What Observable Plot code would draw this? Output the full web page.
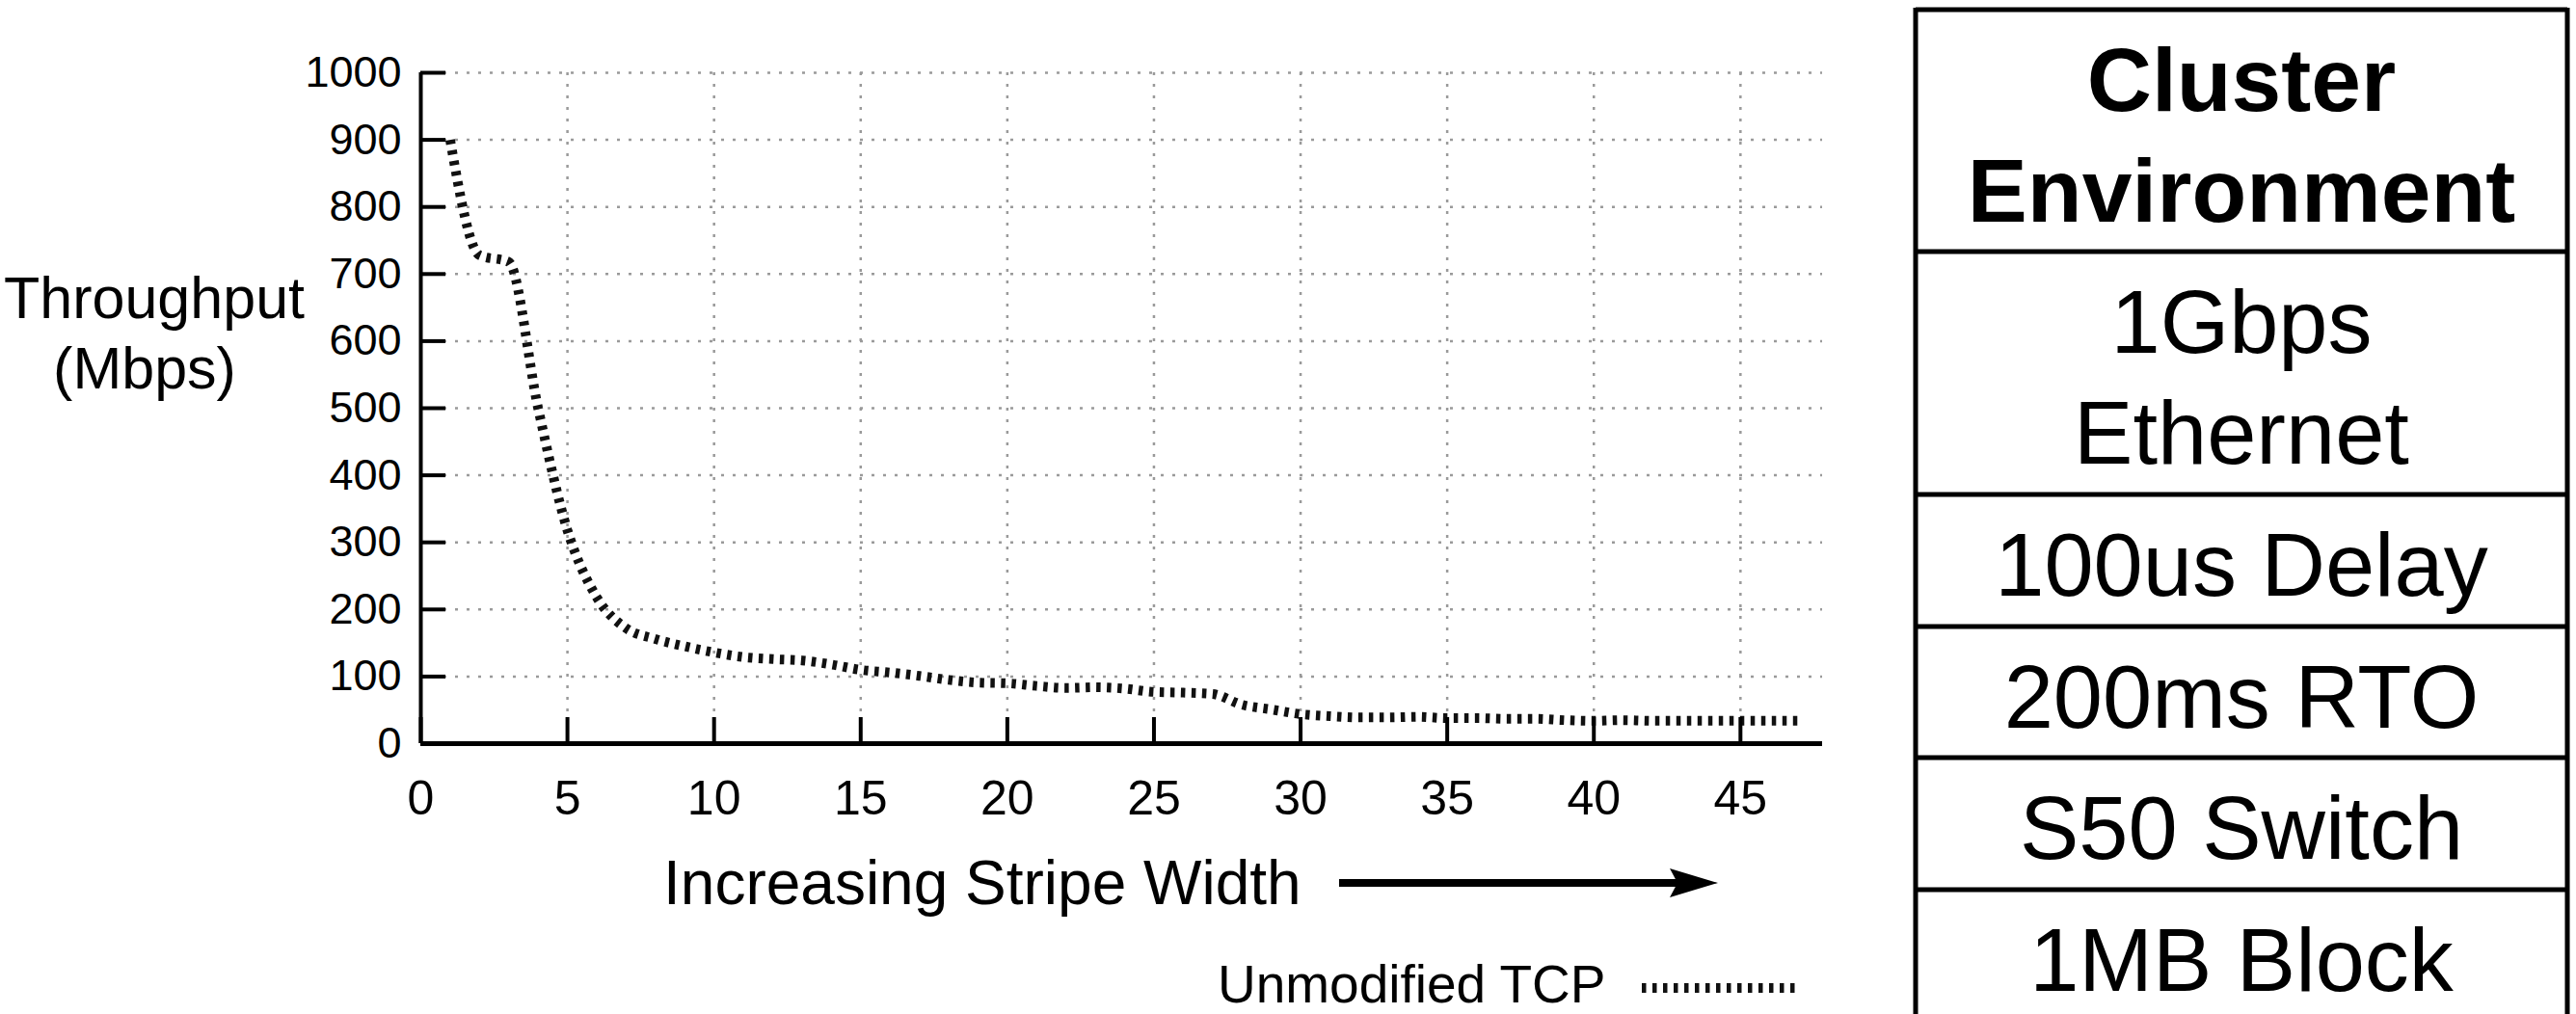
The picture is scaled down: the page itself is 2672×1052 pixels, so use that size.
<!DOCTYPE html>
<html><head><meta charset="utf-8">
<script src="https://cdn.jsdelivr.net/npm/d3@7"></script>
<script src="https://cdn.jsdelivr.net/npm/@observablehq/plot@0.6"></script>
<style>
html,body{margin:0;padding:0;background:#fff;}
#root{position:relative;width:2672px;height:1052px;overflow:hidden;background:#fff;font-family:"Liberation Sans",Arial,Helvetica,sans-serif;}
#chart{position:absolute;left:0;top:0;}
#overlay{position:absolute;left:0;top:0;}
</style></head><body>
<div id="root"><div id="chart"></div><svg id="overlay" width="2672" height="1052"></svg></div>
<script>
// ---- data ----
const stripeWidth = [1,2,3,4,5,6,7,8,9,10,11,12,13,14,15,16,17,18,19,20,21,22,23,24,25,26,27,28,29,30,31,32,33,34,35,36,37,38,39,40,41,42,43,44,45,46,47];
const throughput  = [900,728,718,500,318,218,172,156,145,136,129,126,124,118,110,106,101,95,91,90,86,83,84,82,77,76,74,58,51,44,41,39,39,40,38,38,37,37,35,34,35,34,34,34,34,34,34];
const yTicks = [0,100,200,300,400,500,600,700,800,900,1000];
const xTicks = [0,5,10,15,20,25,30,35,40,45];
const seriesName = "Unmodified TCP";
const yLabelLines = ["Throughput", "(Mbps)"];
const xLabel = "Increasing Stripe Width";
const tableHeader = ["Cluster", "Environment"];
const tableRows = [["1Gbps", "Ethernet"], ["100us Delay"], ["200ms RTO"], ["S50 Switch"], ["1MB Block"]];

const data = stripeWidth.map((x, i) => ({x, y: throughput[i]}));
const FONT = '"Liberation Sans", Arial, Helvetica, sans-serif';
const DASH = "4.5,6.5";

const chart = Plot.plot({
  width: 1960,
  height: 1052,
  marginLeft: 436,
  marginRight: 70,
  marginTop: 75,
  marginBottom: 281,
  style: {fontFamily: FONT, background: "#fff", color: "#000", overflow: "visible"},
  x: {domain: [0, 47.8]},
  y: {domain: [0, 1000]},
  marks: [
    Plot.gridY(yTicks.filter(d => d > 0), {stroke: "#9a9a9a", strokeOpacity: 1, strokeWidth: 2.5, strokeDasharray: "3,9"}),
    Plot.gridX(xTicks.filter(d => d > 0), {stroke: "#9a9a9a", strokeOpacity: 1, strokeWidth: 2.5, strokeDasharray: "3,9"}),
    Plot.line(data, {x: "x", y: "y", stroke: "#111", strokeWidth: 10, strokeDasharray: DASH, strokeLinecap: "butt", strokeLinejoin: "miter", curve: "monotone-x"}),
    Plot.ruleX([0], {stroke: "#000", strokeWidth: 4}),
    Plot.ruleY([0], {stroke: "#000", strokeWidth: 5, x1: 0, x2: 47.8}),
    Plot.axisY(yTicks, {tickSize: -26, tickPadding: 46, strokeWidth: 4, fontSize: 45, label: null, fill: "#000", tickFormat: d => String(d)}),
    Plot.axisX(xTicks, {tickSize: -27, tickPadding: 65, strokeWidth: 4, fontSize: 50, label: null, fill: "#000", tickFormat: d => String(d)})
  ]
});
document.getElementById("chart").appendChild(chart);

// ---- overlay: axis titles, arrow, legend, table ----
const svg = d3.select("#overlay");
svg.style("font-family", FONT);

const yl = svg.append("g").attr("text-anchor", "middle").attr("font-size", 61).attr("fill", "#000");
yl.append("text").attr("x", 160).attr("y", 330).text(yLabelLines[0]);
yl.append("text").attr("x", 150).attr("y", 403).text(yLabelLines[1]);

svg.append("text").attr("x", 688).attr("y", 938).attr("font-size", 64).attr("fill", "#000").text(xLabel);
svg.append("line").attr("x1", 1389).attr("x2", 1740).attr("y1", 916).attr("y2", 916).attr("stroke", "#000").attr("stroke-width", 8);
svg.append("path").attr("d", "M1782,916 L1732,901 L1740,916 L1732,931 Z").attr("fill", "#000");

svg.append("text").attr("x", 1263).attr("y", 1040).attr("font-size", 55).attr("fill", "#000").text(seriesName);
svg.append("line").attr("x1", 1703).attr("x2", 1863).attr("y1", 1025).attr("y2", 1025)
  .attr("stroke", "#111").attr("stroke-width", 10).attr("stroke-dasharray", DASH);

// table
const tL = 1987, tR = 2663, cx = (tL + tR) / 2;
const rowBounds = [10, 261, 513, 650, 786, 923, 1060];
const tg = svg.append("g");
tg.append("line").attr("x1", tL).attr("x2", tL).attr("y1", 8).attr("y2", 1060).attr("stroke", "#000").attr("stroke-width", 5);
tg.append("line").attr("x1", tR).attr("x2", tR).attr("y1", 8).attr("y2", 1060).attr("stroke", "#000").attr("stroke-width", 5);
rowBounds.slice(0, -1).forEach(y => {
  tg.append("line").attr("x1", tL).attr("x2", tR).attr("y1", y).attr("y2", y).attr("stroke", "#000").attr("stroke-width", 5);
});
const allRows = [tableHeader, ...tableRows];
allRows.forEach((lines, r) => {
  lines.forEach((t, j) => {
    tg.append("text").attr("x", cx).attr("y", rowBounds[r] + 105 + j * 115)
      .attr("text-anchor", "middle").attr("font-size", r === 0 ? 93 : 92)
      .attr("font-weight", r === 0 ? "bold" : "normal").attr("fill", "#000").text(t);
  });
});
</script>
</body></html>
